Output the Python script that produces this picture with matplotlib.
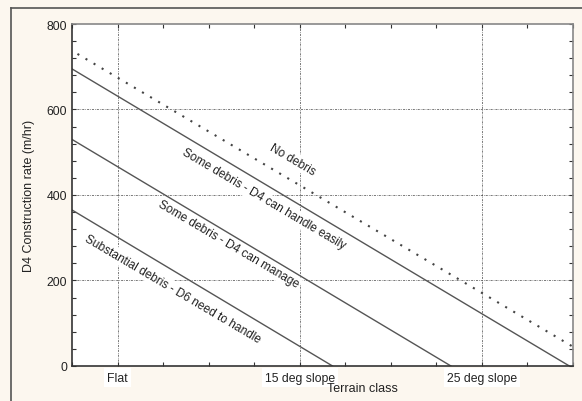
import matplotlib.pyplot as plt
from matplotlib.lines import Line2D

plt.rcParams['font.family'] = ['Liberation Sans', 'DejaVu Sans']

# terrain classes and their x positions
terrain = ["Flat", "15 deg slope", "25 deg slope"]
terrain_x = [1, 2, 3]

# lines (x in terrain units, y in m/hr)
no_debris_x = [0.78, 3.5]
no_debris_y = [730, 45]
easy_x = [0.75, 3.48]
easy_y = [695, 0]
manage_x = [0.75, 2.83]
manage_y = [530, 0]
subst_x = [0.75, 2.18]
subst_y = [365, 0]

labels = ["No debris", "Some debris - D4 can handle easily",
          "Some debris - D4 can manage", "Substantial debris - D6 need to handle"]
label_x = [1.96, 1.80, 1.61, 1.30]
label_y = [484, 391, 285, 182]

bg = "#fcf7ef"
fig = plt.figure(figsize=(5.82, 4.02), dpi=100, facecolor=bg)
ax = fig.add_axes([0.1237, 0.0871, 0.8608, 0.8507])
ax.set_facecolor("white")

grid_style = dict(color="#444444", lw=0.5, ls=(0, (3, 1.5, 1, 1.5)), zorder=1)
for gx in terrain_x:
    ax.axvline(gx, **grid_style)
for gy in [200, 400, 600]:
    ax.axhline(gy, **grid_style)

ax.plot(no_debris_x, no_debris_y, color="#444444", lw=1.5, ls=(0, (1, 3.5)), zorder=2)
ax.plot(easy_x, easy_y, color="#555555", lw=1, zorder=2)
ax.plot(manage_x, manage_y, color="#555555", lw=1, zorder=2)
ax.plot(subst_x, subst_y, color="#555555", lw=1, zorder=2)

for t, lx, ly in zip(labels, label_x, label_y):
    ax.text(lx, ly, t, rotation=-30.5, ha="center", va="center", fontsize=8.6,
            color="#222222", rotation_mode="anchor", zorder=3,
            bbox=dict(boxstyle="square,pad=0.15", fc="white", ec="none"))

ax.set_xlim(0.75, 3.5)
ax.set_ylim(0, 800)
ax.set_xticks(terrain_x)
ax.set_xticklabels(terrain)
ax.set_xticks([0.75 + 0.25 * i for i in range(12)], minor=True)
ax.set_yticks([0, 200, 400, 600, 800])
ax.set_yticks(list(range(0, 801, 40)), minor=True)
ax.tick_params(which="both", direction="in", top=True, right=True,
               length=3, width=0.8, color="#333333", labelsize=8.8,
               labelcolor="#222222")
ax.tick_params(axis="x", which="major", pad=4)
for lab in ax.get_xticklabels():
    lab.set_bbox(dict(boxstyle="square,pad=0.25", fc="white", ec="none"))

for s in ["left", "bottom"]:
    ax.spines[s].set_color("#333333")
    ax.spines[s].set_linewidth(1.2)
for s in ["top", "right"]:
    ax.spines[s].set_color("#888888")
    ax.spines[s].set_linewidth(1.2)

ax.set_xlabel("Terrain class", fontsize=9, color="#222222")
ax.xaxis.set_label_coords(0.579, -0.048)
ax.set_ylabel("D4 Construction rate (m/hr)", fontsize=9, color="#222222")
ax.yaxis.set_label_coords(-0.074, 0.5)

# outer frame of the figure
fig.add_artist(Line2D([0.0189, 0.0189], [0, 0.9776], color="#555555", lw=1.2))
fig.add_artist(Line2D([0.0189, 1], [0.9776, 0.9776], color="#555555", lw=1.2))

fig.savefig("out.png", dpi=100, facecolor=bg)
